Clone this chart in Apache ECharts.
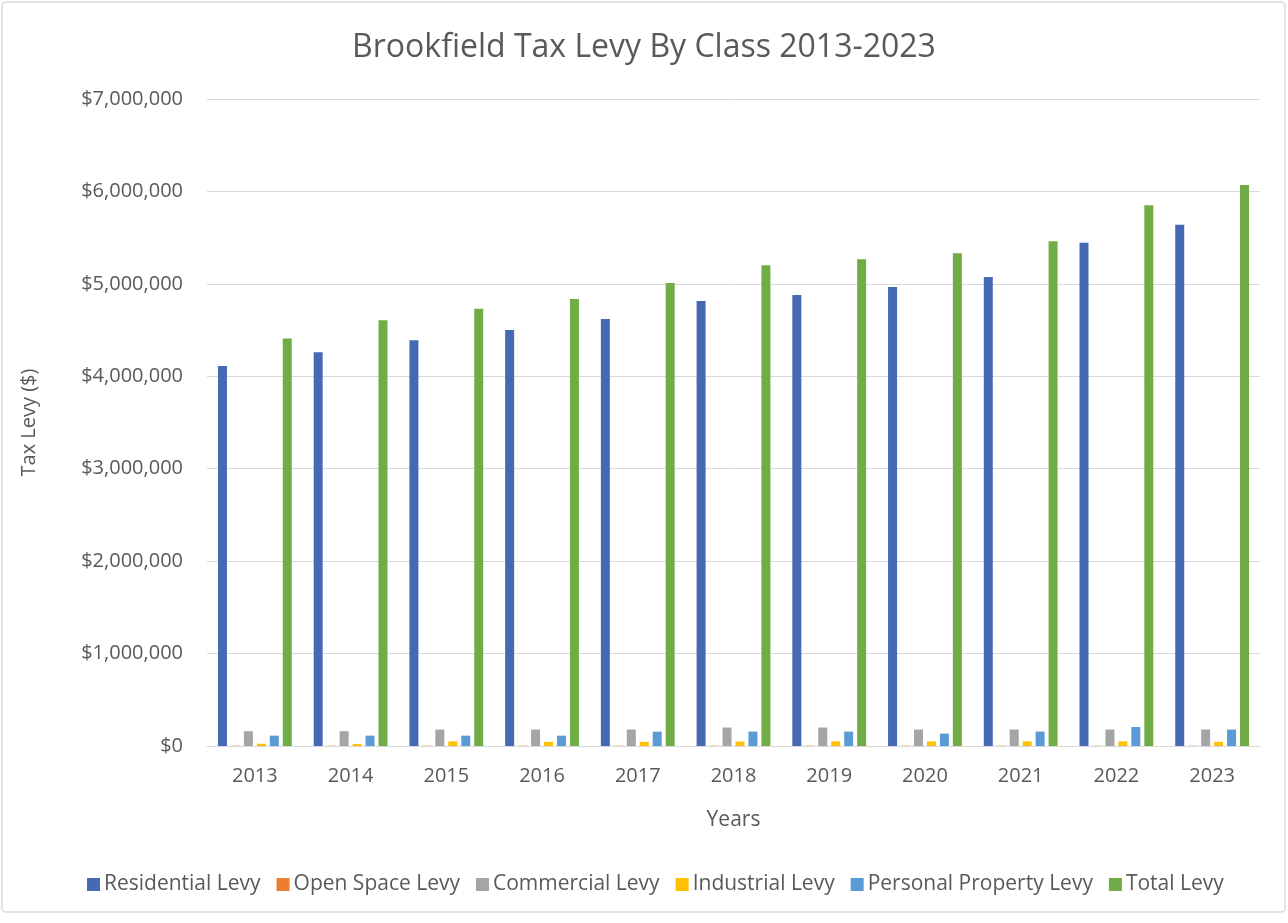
<!DOCTYPE html>
<html>
<head>
<meta charset="utf-8">
<script src="https://cdn.jsdelivr.net/npm/echarts@6/dist/echarts.min.js"></script>
<style>
html,body{margin:0;padding:0;background:#fff;}
#chart{width:1288px;height:923px;}
</style>
</head>
<body>
<div id="chart"></div>
<script>
var years = ['2013','2014','2015','2016','2017','2018','2019','2020','2021','2022','2023'];
var residential = [4110000,4260000,4390000,4500000,4620000,4815000,4880000,4965000,5075000,5445000,5640000];
var openSpace = [3000,3000,3000,3000,3000,3000,3000,3000,3000,3000,3000];
var commercial = [160000,160000,178000,178000,178000,200000,200000,178000,178000,178000,178000];
var industrial = [25000,22000,50000,45000,45000,48000,50000,50000,50000,50000,45000];
var personalProperty = [112000,112000,112000,112000,155000,156000,156000,134000,156000,205000,178000];
var totalLevy = [4410000,4605000,4730000,4835000,5010000,5200000,5265000,5330000,5460000,5850000,6070000];
var seriesNames = ['Residential Levy','Open Space Levy','Commercial Levy','Industrial Levy','Personal Property Levy','Total Levy'];
var seriesData = [residential, openSpace, commercial, industrial, personalProperty, totalLevy];
var colors = ['#4669b4','#ed7d31','#a5a5a5','#ffc000','#5b9bd5','#70ad47'];

var fontFam = '"Open Sans", "Noto Sans", "Liberation Sans", sans-serif';
var chart = echarts.init(document.getElementById('chart'), null, {renderer:'canvas'});
chart.setOption({
  animation: false,
  color: colors,
  textStyle: {fontFamily: fontFam, color: '#595959'},
  title: {
    text: 'Brookfield Tax Levy By Class 2013-2023',
    left: 'center',
    top: 27,
    textStyle: {fontFamily: fontFam, fontSize: 32, fontWeight: 'normal', color: '#595959'}
  },
  graphic: [{
    type: 'rect',
    shape: {x: 2, y: 2, width: 1283, height: 910, r: 4},
    style: {fill: 'none', stroke: '#d9d9d9', lineWidth: 1.5},
    silent: true
  }],
  legend: {
    data: seriesNames,
    bottom: 23,
    left: 82,
    itemWidth: 13,
    itemHeight: 13,
    itemGap: 16,
    icon: 'rect',
    textStyle: {fontFamily: fontFam, fontSize: 21, color: '#595959', padding: [0,0,0,-1]}
  },
  grid: {left: 207, right: 28, top: 99, bottom: 177},
  xAxis: {
    type: 'category',
    data: years,
    name: 'Years',
    nameLocation: 'middle',
    nameGap: 64,
    nameTextStyle: {fontFamily: fontFam, fontSize: 21, color: '#595959'},
    axisLine: {lineStyle: {color: '#d9d9d9'}},
    axisTick: {show: false},
    axisLabel: {fontFamily: fontFam, fontSize: 20, color: '#595959', margin: 20}
  },
  yAxis: {
    type: 'value',
    min: 0,
    max: 7000000,
    interval: 1000000,
    name: 'Tax Levy ($)',
    nameLocation: 'middle',
    nameGap: 168,
    nameRotate: 90,
    nameTextStyle: {fontFamily: fontFam, fontSize: 20, color: '#595959'},
    axisLine: {show: false},
    axisTick: {show: false},
    splitLine: {lineStyle: {color: '#d9d9d9'}},
    axisLabel: {
      fontFamily: fontFam, fontSize: 20, color: '#595959', margin: 24,
      formatter: function(v){ return '$' + v.toLocaleString('en-US'); }
    }
  },
  series: seriesNames.map(function(n, i){
    return {name: n, type: 'bar', data: seriesData[i], barWidth: 9, barGap: '44%'};
  })
});
</script>
</body>
</html>
